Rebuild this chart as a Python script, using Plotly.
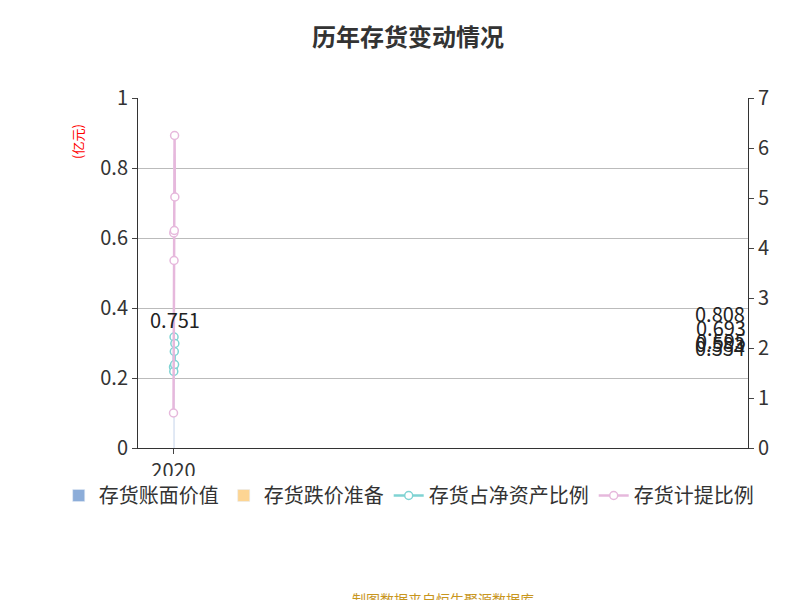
import plotly.graph_objects as go

years = ['2020', '2021', '2022', '2023', '2024', '2025H1']
book_value = [0.583, 0.554, 0.808, 0.693, 0.595, 0.751]
reserve = [0.005, 0.024, 0.031, 0.031, 0.038, 0.040]
net_asset_ratio = [1.62, 1.53, 2.22, 1.93, 1.67, 2.09]
provision_ratio = [0.70, 4.30, 3.75, 4.35, 6.25, 5.02]

fig = go.Figure()
fig.add_trace(go.Bar(x=years, y=book_value, name='存货账面价值', marker_color='#8cadd9'))
fig.add_trace(go.Bar(x=years, y=reserve, name='存货跌价准备', marker_color='#fdd593'))
fig.add_trace(go.Scatter(x=years, y=net_asset_ratio, name='存货占净资产比例', yaxis='y2',
                         mode='lines+markers', line=dict(color='#7fd3d3', width=2.5),
                         marker=dict(size=8, color='white', line=dict(color='#7fd3d3', width=1.5))))
fig.add_trace(go.Scatter(x=years, y=provision_ratio, name='存货计提比例', yaxis='y2',
                         mode='lines+markers', line=dict(color='#e6b8dc', width=2.5),
                         marker=dict(size=8, color='white', line=dict(color='#e6b8dc', width=1.5))))

# value labels above the net asset ratio points
for yr, v, r in zip(years, book_value, net_asset_ratio):
    fig.add_annotation(x=yr, y=r, yref='y2', text=f'{v:.3f}', showarrow=False,
                       yshift=24, font=dict(size=20, color='#222'))

fig.update_layout(
    width=800, height=600, barmode='stack', bargap=0.2,
    plot_bgcolor='white', paper_bgcolor='white',
    font=dict(family='Noto Sans CJK SC', size=18, color='#333'),
    title=dict(text='<b>历年存货变动情况</b>', x=0.5, y=0.965, xanchor='center',
               font=dict(size=24, color='#333')),
    margin=dict(l=130, r=60, t=90, b=160),
    xaxis=dict(type='category', showline=True, linecolor='#333', ticks='outside',
               tickfont=dict(size=20)),
    yaxis=dict(range=[0, 1], dtick=0.2, showline=True, linecolor='#333', ticks='outside',
               gridcolor='#bbb', tickfont=dict(size=20), zeroline=False),
    yaxis2=dict(range=[0, 7], dtick=1, overlaying='y', side='right', showline=True,
                linecolor='#333', ticks='outside', showgrid=False, tickfont=dict(size=20)),
    legend=dict(orientation='h', x=-0.13, y=-0.08, xanchor='left', yanchor='top',
                traceorder='normal', font=dict(size=20)),
)
fig.add_annotation(text='(亿元)', x=-0.1, y=0.93, xref='paper', yref='paper', textangle=-90,
                   showarrow=False, font=dict(size=13, color='red'), xanchor='center')
fig.add_annotation(text='制图数据来自恒生聚源数据库', x=0.5, y=-0.43, xref='paper', yref='paper',
                   yanchor='middle', showarrow=False, font=dict(size=14, color='#c8961e'))
fig.write_html('out.html')
